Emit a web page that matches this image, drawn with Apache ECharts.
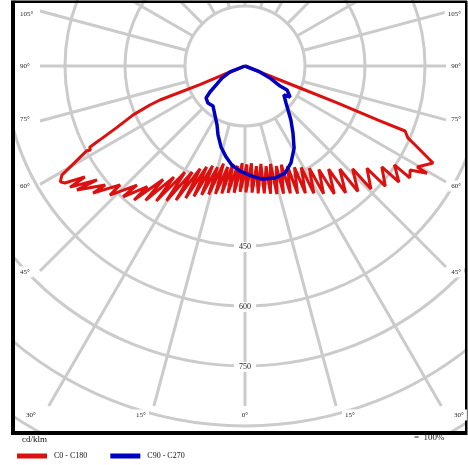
<!DOCTYPE html>
<html><head><meta charset="utf-8">
<script src="https://cdn.jsdelivr.net/npm/echarts@6/dist/echarts.min.js"></script>
<style>html,body{margin:0;padding:0;background:#fff}#c{width:468px;height:465px}</style>
</head><body><div id="c"></div>
<script>
// ---------- data ----------
const seriesNames = ['C0 - C180', 'C90 - C270'];
const ringLabels = [450, 600, 750];
const sideLabels = ['105°', '90°', '75°', '60°', '45°'];
const bottomLabels = ['30°', '15°', '0°', '15°', '30°'];
const unitLabel = 'cd/klm';
const scaleLabel = '=  100%';

// [gamma (deg from nadir), intensity cd/klm]
const redC180 = [[68,0],[68,50],[67.5,122],[68.2,229],[67.7,257],[66.4,305],[64.3,358],[63.0,408],[62.4,438],[61.5,440],[61.8,450],
 [59.2,533],[57.9,545],[57.0,537],[55.3,487],[55.3,532],[52.4,467],[53.6,522],[49.6,459],[50.1,495],[46.4,431],[46.3,467],[42.2,402],[43.0,447],
 [39.0,388],[39.6,435],[35.8,350],[36.5,418],[32.6,330],[33.3,404],[29.5,305],[30.2,390],[26.5,296],[27.2,377],[23.6,280],[24.2,362],
 [20.8,270],[21.4,350],[18.0,262],[18.6,340],[15.2,262],[15.8,334],[12.4,250],[13.0,328],[9.7,256],[10.3,324],[7.0,246],[7.6,320],
 [4.3,250],[4.9,318],[1.6,243],[2.2,315]];
const redC0 = [[1.1,246],[0.4,316],[3.8,244],[3.2,317],[6.5,252],[5.9,320],[9.2,248],[8.6,322],[11.9,256],[11.3,326],
 [14.6,253],[14.0,330],[17.4,262],[16.8,333],[20.2,263],[19.6,338],[23.0,272],[22.4,345],[26.0,282],[25.4,352],
 [29.0,290],[28.4,362],[32.2,302],[31.6,375],[35.5,318],[34.9,390],[39.0,332],[38.4,405],[42.6,350],[42.0,422],
 [46.3,372],[45.7,440],[50.0,398],[49.4,462],[53.6,425],[53.0,482],[56.5,448],[55.8,498],
 [57.8,488],[59.5,528],[59.6,499],[62.7,529],[65.1,469],[66.2,445],[67.9,432],[67.9,359],
 [68.2,250],[68.2,148],[68,50],[68,0]];
const blueC270 = [[68,0],[68.2,40],[62.4,65],[57.3,83],[53.4,109],[50.6,126],[45,131],[38.7,128],[31.5,144],[25.4,163],
 [21.4,185],[16.5,211],[11.8,232],[7.5,250],[2.7,263]];
const blueC90 = [[3.6,276],[8.6,286],[15,290],[20.5,286],[25.4,268],[30.9,239],[35.6,206],[40.4,177],[44.3,154],
 [48,138],[53.4,121],[55.4,137],[60.3,121],[60.3,101],[64.4,69],[69,35],[68,0]];

// ---------- layout ----------
const FONT = 'Liberation Serif';
const GRID_COLOR = '#cbcbcb';
const CX = 245, CY = 66;          // polar centre (px)
const R_OUT = 420;                // outer radius (px) = 1050 cd/klm
const R_MAX = 1050, R_IN_VAL = 150, RING_STEP = 150;
const SPOKE_STEP = 15;
const SPOKE_BOX = {l: 40, r: 446, t: 2, b: 406};   // spokes stop at this box
const sideY = [14, 66, 119, 186, 272];
const bottomX = [31, 141, 245, 350, 459];

// ---------- build ----------
const toLeft = p => [p[1], p[0]];
const toRight = p => [p[1], 360 - p[0]];
const redData = redC180.map(toLeft).concat(redC0.map(toRight));
const blueData = blueC270.map(toLeft).concat(blueC90.map(toRight));

// spokes: from inner ring to the spoke box
const spokeData = [];
for (let a = 0; a < 360; a += SPOKE_STEP) {
  const rad = a * Math.PI / 180;
  const dx = -Math.sin(rad), dy = Math.cos(rad);
  let t = Infinity;
  if (dx < -1e-9) t = Math.min(t, (SPOKE_BOX.l - CX) / dx);
  if (dx > 1e-9) t = Math.min(t, (SPOKE_BOX.r - CX) / dx);
  if (dy > 1e-9) t = Math.min(t, (SPOKE_BOX.b - CY) / dy);
  if (dy < -1e-9) t = Math.min(t, (SPOKE_BOX.t - CY) / dy);
  const rv = Math.min(R_MAX, t * R_MAX / R_OUT);
  if (rv > R_IN_VAL) { spokeData.push([R_IN_VAL, a], [rv, a], ['-', '-']); }
}

const chart = echarts.init(document.getElementById('c'), null, {renderer:'canvas'});
chart.setOption({
  animation: false,
  backgroundColor: '#fff',
  polar: [
    {center:[CX, CY], radius:[60, R_OUT]},
    {center:[CX, CY], radius:[0, R_OUT]}
  ],
  angleAxis: [
    {polarIndex:0, type:'value', min:0, max:360, startAngle:270, clockwise:true, show:false},
    {polarIndex:1, type:'value', min:0, max:360, startAngle:270, clockwise:true, show:false}
  ],
  radiusAxis: [
    {polarIndex:0, type:'value', min:R_IN_VAL, max:R_MAX, interval:RING_STEP,
     axisLine:{show:false}, axisTick:{show:false}, axisLabel:{show:false},
     splitLine:{show:true, lineStyle:{color:GRID_COLOR, width:3}}},
    {polarIndex:1, type:'value', min:0, max:R_MAX, show:false}
  ],
  legend: {left:12, top:447, icon:'rect', itemWidth:30, itemHeight:5, itemGap:23, z:200,
    textStyle:{fontFamily:FONT, fontSize:8, color:'#111', padding:[0,0,0,2]}, data: seriesNames},
  series: [
    {type:'line', coordinateSystem:'polar', polarIndex:1, data:spokeData, showSymbol:false, symbol:'none',
     connectNulls:false, silent:true, z:1, lineStyle:{color:GRID_COLOR, width:3, cap:'butt'}},
    {name:seriesNames[0], type:'line', coordinateSystem:'polar', polarIndex:1, data:redData, showSymbol:false, symbol:'none',
     z:3, color:'#dd1010', lineStyle:{color:'#dd1010', width:3}},
    {name:seriesNames[1], type:'line', coordinateSystem:'polar', polarIndex:1, data:blueData, showSymbol:false, symbol:'none',
     z:4, color:'#0000c0', lineStyle:{color:'#0000c0', width:3.5}}
  ]
});

// ---------- graphics: masks, frame, labels ----------
const graphics = [];
graphics.push({type:'rect', z:50, shape:{x:0,y:0,width:11,height:465}, style:{fill:'#fff'}});
graphics.push({type:'rect', z:50, shape:{x:0,y:435,width:468,height:30}, style:{fill:'#fff'}});
graphics.push({type:'rect', z:50, shape:{x:467,y:0,width:1,height:465}, style:{fill:'#fff'}});
graphics.push({type:'rect', z:55, shape:{x:11,y:0.5,width:456,height:2.5}, style:{fill:'#000'}});
graphics.push({type:'rect', z:55, shape:{x:11,y:1,width:4,height:434}, style:{fill:'#000'}});
graphics.push({type:'rect', z:55, shape:{x:11,y:431,width:456,height:4}, style:{fill:'#000'}});
graphics.push({type:'rect', z:55, shape:{x:465,y:1,width:2.5,height:434}, style:{fill:'#000'}});
const lbl = (t, x, y, align, size, pad) => ({type:'text', z:60, x, y, style:{text:t, font:size+'px "'+FONT+'"', fill:'#222',
  align, verticalAlign:'middle', backgroundColor:'#fff', padding:pad}});
sideLabels.forEach((t,i) => {
  graphics.push(lbl(t, 17, sideY[i], 'left', 7, [2,3]));
  graphics.push(lbl(t, 464, sideY[i], 'right', 7, [2,3]));
});
bottomLabels.forEach((t,i) => graphics.push(lbl(t, bottomX[i], 415, 'center', 7, [2,3])));
ringLabels.forEach(v => {
  const p = chart.convertToPixel({seriesIndex:1}, [v, 0]);
  graphics.push(lbl(String(v), p[0], p[1] + 1, 'center', 8, [1,5]));
});
graphics.push({type:'text', z:60, x:22, y:440, style:{text:unitLabel, font:'9px "'+FONT+'"', fill:'#111', verticalAlign:'middle'}});
graphics.push({type:'text', z:60, x:414, y:438, style:{text:scaleLabel, font:'9px "'+FONT+'"', fill:'#111', verticalAlign:'middle'}});
chart.setOption({graphic: {elements: graphics}});
</script></body></html>
